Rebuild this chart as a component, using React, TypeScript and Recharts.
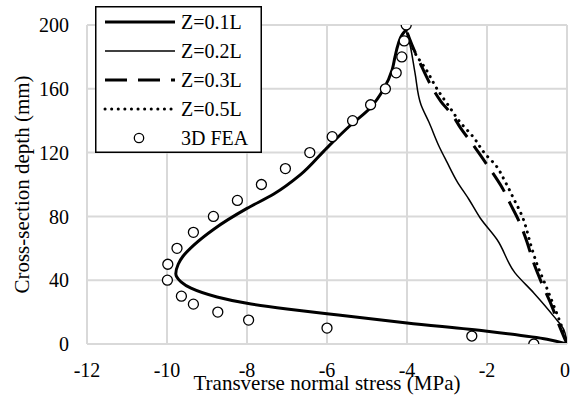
import React from 'react';
import { ComposedChart, Line, XAxis, YAxis, CartesianGrid, Legend, Label } from 'recharts';

// ---- data ----
const seriesNames = ['Z=0.1L', 'Z=0.2L', 'Z=0.3L', 'Z=0.5L', '3D FEA'];

const z01Stress = [0, -0.5, -2, -4, -6, -7, -8, -8.75, -9.4, -9.65, -9.78, -9.72, -9.6, -9.33, -8.83, -8.0, -7.33, -6.67, -6.0, -5.42, -4.92, -4.58, -4.37, -4.3, -4.22, -4.12, -4.02];
const z01Depth = [0, 3, 8, 13.2, 19, 22, 25.5, 29.5, 35, 39, 44, 50, 55, 62, 72, 85, 94, 106, 123, 137, 148, 160, 172, 180, 188, 194, 197];

const z02Stress = [0, -0.08, -0.33, -0.83, -1.3, -1.75, -2.17, -2.45, -2.75, -3.0, -3.2, -3.45, -3.65, -3.8, -3.92, -4.02];
const z02Depth = [0, 9, 17.3, 32, 44.6, 65.5, 79, 90.6, 102, 114, 124, 139, 150, 170, 187, 197];

const z03Stress = [0, -0.2, -0.4, -0.63, -0.85, -1.0, -1.2, -1.42, -1.62, -1.85, -2.1, -2.35, -2.65, -2.85, -3.15, -3.42, -3.67, -3.85, -4.02];
const z03Depth = [0, 12, 25, 38, 52, 64, 77, 88, 98, 107, 116, 125, 135, 143, 152, 163, 176, 186, 197];

const z05Stress = [0, -0.12, -0.3, -0.52, -0.75, -0.88, -1.12, -1.35, -1.55, -1.78, -2.04, -2.35, -2.67, -2.95, -3.25, -3.52, -3.79, -4.02];
const z05Depth = [0, 10, 22, 36, 50, 60, 80, 92, 102, 112, 119, 130, 139, 149, 160, 172, 182, 197];

const feaStress = [-0.83, -2.38, -6.0, -7.96, -8.73, -9.34, -9.64, -9.99, -9.98, -9.75, -9.34, -8.84, -8.24, -7.64, -7.04, -6.43, -5.87, -5.36, -4.91, -4.54, -4.27, -4.13, -4.07, -4.02];
const feaDepth = [0, 5, 10, 15, 20, 25, 30, 40, 50, 60, 70, 80, 90, 100, 110, 120, 130, 140, 150, 160, 170, 180, 190, 200];

const xTicks = [-12, -10, -8, -6, -4, -2, 0];
const yTicks = [0, 40, 80, 120, 160, 200];
const xTitle = 'Transverse normal stress (MPa)';
const yTitle = 'Cross-section depth (mm)';

const toPoints = (xs: number[], ys: number[]) => xs.map((x, i) => ({ x, y: ys[i] }));

const lineData = [
  toPoints(z01Stress, z01Depth),
  toPoints(z02Stress, z02Depth),
  toPoints(z03Stress, z03Depth),
  toPoints(z05Stress, z05Depth),
];
const feaData = toPoints(feaStress, feaDepth);

// ---- styles ----
const FONT = "Liberation Serif, Tinos, Times New Roman, DejaVu Serif, serif";
const fontStyle = { fontFamily: FONT } as React.CSSProperties;
const lineStyles = [
  { strokeWidth: 3, dash: undefined as string | undefined, cap: 'butt' },
  { strokeWidth: 1.5, dash: undefined as string | undefined, cap: 'butt' },
  { strokeWidth: 3, dash: '22 11', cap: 'butt' },
  { strokeWidth: 3, dash: '0.1 6.5', cap: 'round' },
];

const renderLegend = () => {
  const w = 167;
  const h = 147;
  return (
    <svg width={w} height={h} style={{ display: 'block' }}>
      <rect x={0.75} y={0.75} width={w - 1.5} height={h - 1.5} fill="#fff" stroke="#000" strokeWidth={1.5} />
      {seriesNames.map((name, i) => {
        const cy = 16 + i * 29;
        const st = lineStyles[i];
        return (
          <g key={name}>
            {st ? (
              <line x1={10} x2={80} y1={cy} y2={cy} stroke="#000" strokeWidth={st.strokeWidth}
                strokeDasharray={st.dash} strokeLinecap={st.cap as any} />
            ) : (
              <circle cx={44} cy={cy} r={4.7} fill="#fff" stroke="#000" strokeWidth={1.3} />
            )}
            <text x={86} y={cy} dy="0.35em" style={fontStyle} fontSize={20} fill="#000">{name}</text>
          </g>
        );
      })}
    </svg>
  );
};

const renderYTitle = (props: any) => {
  const vb = props.viewBox || {};
  const cx = 22;
  const cy = (vb.y ?? 25) + (vb.height ?? 319) / 2;
  return (
    <text x={cx} y={cy} transform={`rotate(-90 ${cx} ${cy})`} textAnchor="middle" dy="0.32em"
      style={fontStyle} fontSize={21} fill="#000">{yTitle}</text>
  );
};

const renderXTitle = (props: any) => {
  const vb = props.viewBox || {};
  const cx = (vb.x ?? 87) + (vb.width ?? 480) / 2;
  const y = (vb.y ?? 344) + 46;
  return (
    <text x={cx} y={y} textAnchor="middle" style={fontStyle} fontSize={21} fill="#000">{xTitle}</text>
  );
};

export default function App() {
  return (
    <div style={{ position: 'absolute', left: 0, top: 0, width: 570, height: 399, background: '#fff', fontFamily: FONT }}>
      <ComposedChart width={570} height={399} margin={{ top: 25, right: 3, bottom: 0, left: 0 }} style={fontStyle}>
        <CartesianGrid stroke="#d9d9d9" strokeWidth={2} />
        <XAxis type="number" dataKey="x" domain={[-12, 0]} ticks={xTicks} allowDataOverflow
          height={55} tickLine={false} tickSize={0} tickMargin={18.5}
          axisLine={{ stroke: '#d9d9d9', strokeWidth: 2 }}
          tick={{ style: fontStyle, fontSize: 20, fill: '#000' }}>
          <Label content={renderXTitle} />
        </XAxis>
        <YAxis type="number" dataKey="y" domain={[0, 200]} ticks={yTicks} allowDataOverflow
          width={87} tickLine={false} tickSize={0} tickMargin={18}
          axisLine={{ stroke: '#d9d9d9', strokeWidth: 2 }}
          tick={{ style: fontStyle, fontSize: 20, fill: '#000' }}>
          <Label content={renderYTitle} />
        </YAxis>
        {lineData.map((d, i) => (
          <Line key={seriesNames[i]} data={d} dataKey="y" name={seriesNames[i]} type="monotoneY"
            stroke="#000" strokeWidth={lineStyles[i].strokeWidth} strokeDasharray={lineStyles[i].dash}
            strokeLinecap={lineStyles[i].cap as any} dot={false} activeDot={false} isAnimationActive={false} />
        ))}
        <Line data={feaData} dataKey="y" name={seriesNames[4]} stroke="none" strokeWidth={0}
          dot={{ r: 5, fill: '#fff', stroke: '#000', strokeWidth: 1.3 }} activeDot={false} isAnimationActive={false} />
        <Legend layout="vertical" align="center" verticalAlign="middle" content={renderLegend}
          wrapperStyle={{ left: 95, top: 6, width: 167, height: 147 }} />
      </ComposedChart>
    </div>
  );
}
